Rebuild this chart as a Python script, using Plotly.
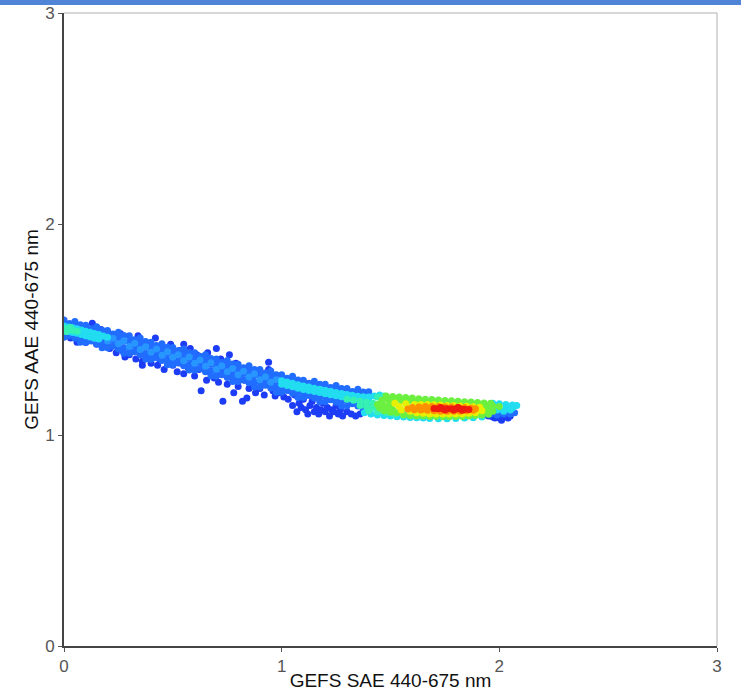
import plotly.graph_objects as go

# Density-coloured scatter of GEFS AAE vs SAE (440-675 nm).
# Points are grouped by local density level; each group is a list of (SAE, AAE) pairs.

blue_pts = [
    (0.03, 1.46), (0.06, 1.44), (0.10, 1.44), (0.13, 1.53), (0.15, 1.43), (0.17, 1.50),
    (0.18, 1.42), (0.20, 1.49), (0.21, 1.41), (0.22, 1.47), (0.24, 1.39), (0.26, 1.48),
    (0.27, 1.40), (0.28, 1.37), (0.30, 1.38), (0.31, 1.45), (0.33, 1.36), (0.34, 1.42),
    (0.34, 1.47), (0.35, 1.39), (0.36, 1.35), (0.36, 1.33), (0.37, 1.44), (0.38, 1.37),
    (0.40, 1.34), (0.40, 1.41), (0.42, 1.46), (0.42, 1.38), (0.43, 1.33), (0.44, 1.36),
    (0.45, 1.42), (0.46, 1.31), (0.47, 1.39), (0.48, 1.35), (0.49, 1.43), (0.50, 1.33),
    (0.51, 1.37), (0.52, 1.30), (0.53, 1.40), (0.54, 1.34), (0.55, 1.43), (0.55, 1.29),
    (0.56, 1.37), (0.57, 1.32), (0.58, 1.41), (0.59, 1.35), (0.60, 1.28), (0.61, 1.38),
    (0.62, 1.31), (0.63, 1.21), (0.63, 1.36), (0.64, 1.33), (0.655, 1.26), (0.66, 1.39),
    (0.67, 1.30), (0.68, 1.35), (0.69, 1.27), (0.70, 1.41), (0.70, 1.32), (0.71, 1.25),
    (0.72, 1.36), (0.73, 1.16), (0.73, 1.29), (0.74, 1.33), (0.75, 1.24), (0.76, 1.38),
    (0.77, 1.30), (0.78, 1.20), (0.78, 1.27), (0.79, 1.34), (0.80, 1.23), (0.81, 1.29),
    (0.82, 1.16), (0.83, 1.26), (0.84, 1.175), (0.84, 1.31), (0.85, 1.22), (0.86, 1.28),
    (0.87, 1.24), (0.88, 1.20), (0.89, 1.30), (0.90, 1.22), (0.91, 1.26), (0.92, 1.19),
    (0.94, 1.345), (0.94, 1.31), (0.95, 1.23), (0.96, 1.21), (0.97, 1.185), (0.98, 1.25),
    (0.99, 1.20), (1.00, 1.23), (1.01, 1.18), (1.03, 1.17), (1.04, 1.21), (1.05, 1.14),
    (1.06, 1.19), (1.07, 1.11), (1.08, 1.15), (1.09, 1.13), (1.10, 1.17), (1.11, 1.12),
    (1.12, 1.10), (1.13, 1.14), (1.14, 1.16), (1.15, 1.11), (1.16, 1.13), (1.17, 1.10),
    (1.18, 1.12), (1.19, 1.15), (1.20, 1.11), (1.21, 1.13), (1.22, 1.09), (1.23, 1.12),
    (1.24, 1.11), (1.25, 1.14), (1.26, 1.10), (1.27, 1.12), (1.28, 1.09), (1.30, 1.11),
    (1.32, 1.10), (1.34, 1.09), (1.36, 1.10), (1.93, 1.095), (1.95, 1.09), (1.97, 1.085),
    (1.98, 1.08), (2.00, 1.08), (2.01, 1.07), (2.02, 1.085), (2.04, 1.08), (2.05, 1.09),
]

light_pts = [
    (0.000, 1.545), (0.000, 1.517), (0.000, 1.487), (0.000, 1.463),
    (0.025, 1.529), (0.025, 1.501), (0.025, 1.471),
    (0.050, 1.538), (0.050, 1.513), (0.050, 1.485), (0.050, 1.458),
    (0.075, 1.522), (0.075, 1.495), (0.075, 1.465), (0.075, 1.439),
    (0.100, 1.520), (0.100, 1.492), (0.100, 1.462), (0.100, 1.438),
    (0.125, 1.504), (0.125, 1.476), (0.125, 1.446),
    (0.150, 1.513), (0.150, 1.488), (0.150, 1.460), (0.150, 1.433),
    (0.175, 1.496), (0.175, 1.469), (0.175, 1.439), (0.175, 1.413),
    (0.200, 1.495), (0.200, 1.467), (0.200, 1.437), (0.200, 1.413),
    (0.225, 1.479), (0.225, 1.451), (0.225, 1.421),
    (0.250, 1.487), (0.250, 1.462), (0.250, 1.434), (0.250, 1.407),
    (0.275, 1.471), (0.275, 1.444), (0.275, 1.414), (0.275, 1.388),
    (0.300, 1.470), (0.300, 1.442), (0.300, 1.412), (0.300, 1.388),
    (0.325, 1.452), (0.325, 1.424), (0.325, 1.394),
    (0.350, 1.460), (0.350, 1.435), (0.350, 1.407), (0.350, 1.380),
    (0.375, 1.443), (0.375, 1.416), (0.375, 1.386), (0.375, 1.360),
    (0.400, 1.440), (0.400, 1.412), (0.400, 1.382), (0.400, 1.358),
    (0.425, 1.424), (0.425, 1.396), (0.425, 1.366),
    (0.450, 1.433), (0.450, 1.408), (0.450, 1.380), (0.450, 1.353),
    (0.475, 1.416), (0.475, 1.389), (0.475, 1.359), (0.475, 1.333),
    (0.500, 1.415), (0.500, 1.387), (0.500, 1.357), (0.500, 1.333),
    (0.525, 1.399), (0.525, 1.371), (0.525, 1.341),
    (0.550, 1.408), (0.550, 1.383), (0.550, 1.355), (0.550, 1.328),
    (0.575, 1.391), (0.575, 1.364), (0.575, 1.334), (0.575, 1.308),
    (0.600, 1.390), (0.600, 1.362), (0.600, 1.332), (0.600, 1.308),
    (0.625, 1.373), (0.625, 1.345), (0.625, 1.315),
    (0.650, 1.380), (0.650, 1.355), (0.650, 1.327), (0.650, 1.300),
    (0.675, 1.363), (0.675, 1.336), (0.675, 1.306), (0.675, 1.280),
    (0.700, 1.360), (0.700, 1.332), (0.700, 1.302), (0.700, 1.278),
    (0.725, 1.344), (0.725, 1.316), (0.725, 1.286),
    (0.750, 1.353), (0.750, 1.328), (0.750, 1.300), (0.750, 1.273),
    (0.775, 1.336), (0.775, 1.309), (0.775, 1.279), (0.775, 1.253),
    (0.800, 1.335), (0.800, 1.307), (0.800, 1.277), (0.800, 1.253),
    (0.825, 1.319), (0.825, 1.291), (0.825, 1.261),
    (0.850, 1.328), (0.850, 1.303), (0.850, 1.275), (0.850, 1.248),
    (0.875, 1.311), (0.875, 1.284), (0.875, 1.254), (0.875, 1.228),
    (0.900, 1.310), (0.900, 1.282), (0.900, 1.252), (0.900, 1.228),
    (0.925, 1.294), (0.925, 1.266), (0.925, 1.236),
    (0.950, 1.303), (0.950, 1.278), (0.950, 1.250), (0.950, 1.223),
    (0.975, 1.286), (0.975, 1.259), (0.975, 1.229), (0.975, 1.203),
    (1.000, 1.285), (1.000, 1.257), (1.000, 1.227), (1.000, 1.203),
    (1.025, 1.269), (1.025, 1.241), (1.025, 1.211),
    (1.050, 1.278), (1.050, 1.253), (1.050, 1.225), (1.050, 1.198),
    (1.075, 1.261), (1.075, 1.234), (1.075, 1.204), (1.075, 1.178),
    (1.100, 1.260), (1.100, 1.232), (1.100, 1.202), (1.100, 1.178),
    (1.125, 1.245), (1.125, 1.217), (1.125, 1.187),
    (1.150, 1.255), (1.150, 1.230), (1.150, 1.202), (1.150, 1.175),
    (1.175, 1.240), (1.175, 1.213), (1.175, 1.183), (1.175, 1.157),
    (1.200, 1.240), (1.200, 1.212), (1.200, 1.182), (1.200, 1.158),
    (1.225, 1.225), (1.225, 1.197), (1.225, 1.167),
    (1.250, 1.235), (1.250, 1.210), (1.250, 1.182), (1.250, 1.155),
    (1.275, 1.220), (1.275, 1.193), (1.275, 1.163), (1.275, 1.137),
    (1.300, 1.220), (1.300, 1.192), (1.300, 1.162), (1.300, 1.138),
    (1.325, 1.206), (1.325, 1.178), (1.325, 1.148),
    (1.350, 1.217), (1.350, 1.192), (1.350, 1.164), (1.350, 1.137),
    (1.375, 1.204), (1.375, 1.177), (1.375, 1.147), (1.375, 1.121),
    (1.400, 1.205), (1.400, 1.177), (1.400, 1.147), (1.400, 1.123),
    (1.960, 1.100), (1.990, 1.095), (2.020, 1.100), (2.050, 1.100), (2.070, 1.105),
    (2.000, 1.105),
]

mid_pts = [
    (0.200, 1.445), (0.225, 1.458), (0.250, 1.432), (0.275, 1.447), (0.300, 1.420),
    (0.325, 1.435), (0.350, 1.405), (0.375, 1.418), (0.400, 1.392), (0.425, 1.408),
    (0.450, 1.378), (0.475, 1.394), (0.500, 1.368), (0.525, 1.380), (0.550, 1.352),
    (0.575, 1.370), (0.600, 1.340), (0.625, 1.355), (0.650, 1.326), (0.675, 1.342),
    (0.700, 1.312), (0.725, 1.328), (0.750, 1.300), (0.775, 1.315), (0.800, 1.286),
    (0.825, 1.302), (0.850, 1.275), (0.875, 1.290), (0.900, 1.262), (0.925, 1.276),
    (0.950, 1.250), (0.975, 1.262),
]

cyan_pts = [
    (0.00, 1.517), (0.00, 1.495), (0.02, 1.512), (0.02, 1.490), (0.04, 1.508), (0.04, 1.486),
    (0.06, 1.503), (0.06, 1.482), (0.08, 1.498), (0.08, 1.476), (0.10, 1.492), (0.10, 1.470),
    (0.12, 1.487), (0.12, 1.465), (0.14, 1.481), (0.14, 1.459), (0.16, 1.476), (0.16, 1.455),
    (0.18, 1.469), (0.20, 1.463),
    (1.000, 1.257), (1.000, 1.241), (1.025, 1.251), (1.025, 1.235), (1.050, 1.245),
    (1.050, 1.229), (1.075, 1.238), (1.075, 1.222), (1.100, 1.232), (1.100, 1.216),
    (1.125, 1.227), (1.125, 1.211), (1.150, 1.222), (1.150, 1.206), (1.175, 1.217),
    (1.175, 1.201), (1.200, 1.212), (1.200, 1.196), (1.225, 1.207), (1.225, 1.191),
    (1.250, 1.202), (1.250, 1.186), (1.275, 1.197), (1.275, 1.181), (1.300, 1.192),
    (1.300, 1.176), (1.325, 1.188), (1.325, 1.172), (1.350, 1.184), (1.350, 1.168),
    (1.375, 1.181), (1.375, 1.165), (1.400, 1.180), (1.400, 1.161), (1.425, 1.185),
    (1.450, 1.190),
    (1.38, 1.105), (1.41, 1.100), (1.44, 1.095), (1.47, 1.092), (1.50, 1.090), (1.53, 1.087),
    (1.56, 1.085), (1.59, 1.083), (1.62, 1.082), (1.65, 1.080), (1.68, 1.078), (1.72, 1.077),
    (1.76, 1.077), (1.80, 1.078), (1.84, 1.080), (1.88, 1.082), (1.92, 1.085),
    (1.97, 1.150), (2.00, 1.148), (2.03, 1.145), (2.06, 1.142), (2.08, 1.140), (2.06, 1.128),
    (2.03, 1.125), (1.99, 1.118), (2.02, 1.112), (2.05, 1.118),
]

aqua_pts = [
    (0.00, 1.506), (0.02, 1.501), (0.04, 1.497), (0.06, 1.492), (0.03, 1.510), (0.01, 1.490),
    (1.30, 1.170), (1.33, 1.165), (1.36, 1.160), (1.39, 1.155), (1.42, 1.150), (1.36, 1.140),
    (1.39, 1.135), (1.42, 1.130), (1.45, 1.125), (1.40, 1.115), (1.44, 1.110), (1.48, 1.105),
    (1.52, 1.100), (1.56, 1.098), (1.60, 1.095), (1.64, 1.093), (1.44, 1.180), (1.47, 1.185),
]

green_pts = [
    (1.48, 1.185), (1.51, 1.183), (1.54, 1.180), (1.57, 1.178), (1.60, 1.175), (1.63, 1.172),
    (1.66, 1.170), (1.69, 1.168), (1.72, 1.166), (1.75, 1.164), (1.78, 1.162), (1.81, 1.160),
    (1.84, 1.158), (1.87, 1.156), (1.90, 1.154), (1.93, 1.152), (1.96, 1.150),
    (1.46, 1.165), (1.49, 1.167), (1.52, 1.165), (1.55, 1.163), (1.58, 1.160), (1.61, 1.158),
    (1.64, 1.156), (1.67, 1.154), (1.70, 1.152), (1.73, 1.150), (1.76, 1.149), (1.79, 1.148),
    (1.82, 1.147), (1.85, 1.146), (1.88, 1.144), (1.91, 1.142), (1.94, 1.140), (1.97, 1.138),
    (2.00, 1.135),
    (1.44, 1.145), (1.47, 1.140), (1.50, 1.145), (1.45, 1.128), (1.48, 1.125), (1.51, 1.120),
    (1.47, 1.115), (1.50, 1.108), (1.53, 1.105), (1.93, 1.125), (1.96, 1.125), (1.94, 1.110),
    (1.97, 1.112),
    (1.56, 1.095), (1.59, 1.093), (1.62, 1.090), (1.65, 1.090), (1.68, 1.088), (1.71, 1.088),
    (1.74, 1.087), (1.77, 1.087), (1.80, 1.088), (1.83, 1.088), (1.86, 1.090), (1.89, 1.092),
    (1.92, 1.095), (1.95, 1.098),
]

yellow_pts = [
    (1.52, 1.150), (1.54, 1.135), (1.55, 1.118), (1.57, 1.148), (1.58, 1.130), (1.59, 1.112),
    (1.61, 1.145), (1.62, 1.105), (1.64, 1.145), (1.65, 1.103), (1.67, 1.145), (1.68, 1.100),
    (1.70, 1.143), (1.71, 1.100), (1.73, 1.142), (1.74, 1.100), (1.76, 1.140), (1.77, 1.100),
    (1.79, 1.140), (1.80, 1.100), (1.82, 1.138), (1.83, 1.100), (1.85, 1.136), (1.86, 1.103),
    (1.88, 1.134), (1.89, 1.106), (1.91, 1.132), (1.92, 1.115), (1.90, 1.120),
]

orange_pts = [
    (1.58, 1.123), (1.60, 1.130), (1.61, 1.120), (1.63, 1.133), (1.64, 1.118), (1.66, 1.135),
    (1.67, 1.117), (1.69, 1.135), (1.70, 1.115), (1.72, 1.135), (1.73, 1.113), (1.75, 1.134),
    (1.76, 1.113), (1.78, 1.133), (1.79, 1.113), (1.81, 1.132), (1.82, 1.113), (1.84, 1.130),
    (1.85, 1.115), (1.87, 1.127), (1.88, 1.117), (1.65, 1.126), (1.89, 1.124),
]

red_pts = [
    (1.70, 1.126), (1.72, 1.124), (1.74, 1.126), (1.76, 1.124), (1.78, 1.125), (1.80, 1.123),
    (1.82, 1.124), (1.84, 1.122), (1.86, 1.121), (1.75, 1.118), (1.79, 1.118), (1.83, 1.117),
    (1.73, 1.130), (1.81, 1.130),
]

# density level of each group (0 = sparse, 1 = densest)
groups = [
    (blue_pts, 0.03),
    (light_pts, 0.17),
    (mid_pts, 0.25),
    (cyan_pts, 0.38),
    (aqua_pts, 0.47),
    (green_pts, 0.57),
    (yellow_pts, 0.70),
    (orange_pts, 0.83),
    (red_pts, 1.0),
]

density_scale = [
    [0.0, "#1b34f2"], [0.15, "#1f63ff"], [0.27, "#2aa0ff"], [0.38, "#22dcf0"],
    [0.47, "#36f0b4"], [0.57, "#6cf040"], [0.70, "#e6f000"], [0.83, "#ff9000"],
    [1.0, "#ee1a10"],
]

xs, ys, ds = [], [], []
for pts, level in groups:
    for px, py in pts:
        xs.append(px)
        ys.append(py)
        ds.append(level)

axis_ticks = [0, 1, 2, 3]

fig = go.Figure(
    go.Scatter(
        x=xs, y=ys, mode="markers",
        marker=dict(size=7, color=ds, colorscale=density_scale, cmin=0, cmax=1,
                    line=dict(width=0)),
        hoverinfo="skip", showlegend=False,
    )
)

font_family = "Liberation Sans, Arial, sans-serif"
common_axis = dict(
    range=[0, 3], tickvals=axis_ticks, ticktext=[str(t) for t in axis_ticks],
    showgrid=False, zeroline=False, showline=True, linecolor="#444", linewidth=2,
    ticks="outside", ticklen=4, tickwidth=1, tickcolor="#555", automargin=False,
    tickfont=dict(family=font_family, size=17, color="#555"),
)

fig.update_layout(
    width=741, height=691,
    margin=dict(l=64, r=24, t=13, b=45),
    paper_bgcolor="white", plot_bgcolor="white",
    xaxis=dict(common_axis, title=dict(text="GEFS SAE 440-675 nm", standoff=0,
                                       font=dict(family=font_family, size=19, color="#111"))),
    yaxis=dict(common_axis, title=dict(text="GEFS AAE 440-675 nm", standoff=1,
                                       font=dict(family=font_family, size=19, color="#111"))),
    shapes=[
        # light frame on the top and right of the plot area
        dict(type="line", xref="paper", yref="paper", x0=0, x1=1, y0=1, y1=1,
             line=dict(color="#b0b0b0", width=1), layer="below"),
        dict(type="line", xref="paper", yref="paper", x0=1, x1=1, y0=0, y1=1,
             line=dict(color="#b0b0b0", width=1), layer="below"),
        # header strip along the top edge of the page
        dict(type="rect", xref="paper", yref="paper", ysizemode="pixel", yanchor=1,
             x0=-0.2, x1=1.2, y0=8, y1=14, line=dict(width=0), fillcolor="#4f84d6"),
    ],
)

fig.write_html("out.html")
